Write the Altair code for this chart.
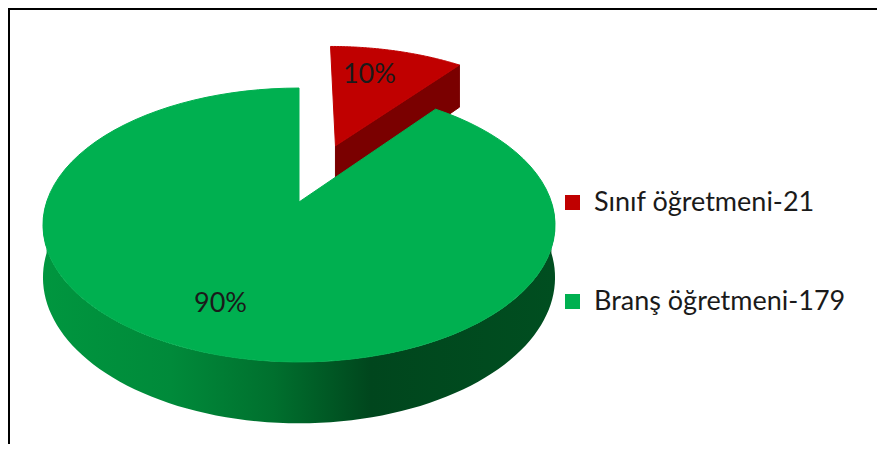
import altair as alt
import pandas as pd

# ---- data ----
categories = ["Sınıf öğretmeni-21", "Branş öğretmeni-179"]
values = [21, 179]
pct_labels = ["10%", "90%"]
slice_colors = ["#C00000", "#00B050"]
explode = [0.48, 0.0]

df = pd.DataFrame({
    "cat": categories,
    "value": values,
    "pct": pct_labels,
    "explode": explode,
    "order": list(range(len(categories))),
})

# ---- 3D pie projection parameters (perspective view of a tilted disc) ----
CX, CY = 299.0, 202.0      # projected centre of the disc
A, B = 252.4, 133.1        # horizontal / vertical scale
C = 0.168                  # perspective strength
H = 51.0                   # thickness of the disc
N = 90                     # arc segments
LR = 0.72                  # label radius

PX = f"{CX} + {A}*datum.u/(1 - {C}*datum.v)"
PY = f"{CY} + ({B}*datum.v + datum.dz)/(1 - {C}*datum.v)"

xenc = alt.X("px:Q", scale=alt.Scale(domain=[8, 877]), axis=None)
yenc = alt.Y("py:Q", scale=alt.Scale(domain=[8, 444], reverse=True), axis=None)
color_scale = alt.Scale(domain=categories, range=slice_colors)
legend = alt.Legend(
    orient="none", legendX=551, legendY=181, title=None,
    symbolType="square", symbolSize=225, symbolStrokeWidth=0,
    labelFont="Lato", labelFontSize=27, labelColor="#1a1a1a", labelLimit=600,
    labelOffset=8, rowPadding=71, padding=0,
)

base = (
    alt.Chart(df)
    .transform_joinaggregate(total="sum(value)")
    .transform_window(cum="sum(value)", sort=[alt.SortField("order")], frame=[None, 0])
    .transform_calculate(
        a0="2*PI*(datum.cum - datum.value)/datum.total",
        a1="2*PI*datum.cum/datum.total",
    )
    .transform_calculate(mid="(datum.a0 + datum.a1)/2")
    .transform_calculate(
        eu="datum.explode*sin(datum.mid)",
        ev="-datum.explode*cos(datum.mid)",
    )
)

# cut face of the exploded slice (visible radial side)
face = (
    base.transform_filter("datum.explode > 0")
    .transform_calculate(s="sequence(0, 4)")
    .transform_flatten(["s"])
    .transform_calculate(
        r="(datum.s == 1 || datum.s == 2) ? 1 : 0",
        dz=f"datum.s >= 2 ? {H} : 0",
    )
    .transform_calculate(
        u="datum.r*sin(datum.a1) + datum.eu",
        v="-datum.r*cos(datum.a1) + datum.ev",
    )
    .transform_calculate(px=PX, py=PY)
    .mark_line(interpolate="linear-closed", fill="#7A0000", stroke="#7A0000", strokeWidth=1)
    .encode(x=xenc, y=yenc, order="s:Q")
)

def top_face(filter_expr):
    return (
        base.transform_filter(filter_expr)
        .transform_calculate(s=f"sequence(0, {N + 2})")
        .transform_flatten(["s"])
        .transform_calculate(
            ang=f"datum.a0 + (datum.a1 - datum.a0)*min(datum.s, {N})/{N}",
            r=f"datum.s > {N} ? 0 : 1",
            dz="0",
        )
        .transform_calculate(
            u="datum.r*sin(datum.ang) + datum.eu",
            v="-datum.r*cos(datum.ang) + datum.ev",
        )
        .transform_calculate(px=PX, py=PY)
        .mark_line(interpolate="linear-closed", strokeWidth=1, strokeJoin="round")
        .encode(
            x=xenc, y=yenc, order="s:Q",
            fill=alt.Fill("cat:N", scale=color_scale, legend=legend),
            stroke=alt.Stroke("cat:N", scale=color_scale, legend=None),
        )
    )

wall_gradient = alt.LinearGradient(
    gradient="linear",
    stops=[
        alt.GradientStop(offset=0.0, color="#00963F"),
        alt.GradientStop(offset=0.25, color="#008A3A"),
        alt.GradientStop(offset=0.45, color="#00702E"),
        alt.GradientStop(offset=0.64, color="#00461D"),
        alt.GradientStop(offset=1.0, color="#004E20"),
    ],
    x1=0, x2=1, y1=0, y2=0,
)

# outer visible wall (front half) of the non-exploded slice
wall = (
    base.transform_filter("datum.explode == 0")
    .transform_calculate(ws="max(datum.a0, PI/2)", we="min(datum.a1, 3*PI/2)")
    .transform_filter("datum.we > datum.ws")
    .transform_calculate(s=f"sequence(0, {2 * N + 2})")
    .transform_flatten(["s"])
    .transform_calculate(
        ang=f"datum.s <= {N} ? datum.ws + (datum.we - datum.ws)*datum.s/{N} : datum.we - (datum.we - datum.ws)*(datum.s - {N + 1})/{N}",
        dz=f"datum.s <= {N} ? 0 : {H}",
    )
    .transform_calculate(u="sin(datum.ang) + datum.eu", v="-cos(datum.ang) + datum.ev")
    .transform_calculate(px=PX, py=PY)
    .mark_line(interpolate="linear-closed", fill=wall_gradient, strokeWidth=0)
    .encode(x=xenc, y=yenc, order="s:Q")
)

labels = (
    base.transform_calculate(
        u=f"{LR}*sin(datum.mid) + datum.eu",
        v=f"-{LR}*cos(datum.mid) + datum.ev",
        dz="0",
    )
    .transform_calculate(px=PX, py=PY)
    .mark_text(font="Lato", fontSize=27, color="#1a1a1a", baseline="middle", align="center", dx=-12)
    .encode(x=xenc, y=yenc, text="pct:N")
)

frame_df = pd.DataFrame({"k": [0]})
border_top = alt.Chart(frame_df).mark_rule(color="#000000", strokeWidth=2).encode(
    x=alt.value(0), x2=alt.value(869), y=alt.value(1)
)
border_left = alt.Chart(frame_df).mark_rule(color="#000000", strokeWidth=2).encode(
    x=alt.value(1), y=alt.value(0), y2=alt.value(436)
)

chart = (
    alt.layer(face, top_face("datum.explode > 0"), wall, top_face("datum.explode == 0"),
              labels, border_top, border_left)
    .properties(width=869, height=436, autosize=alt.AutoSizeParams(type="none"), padding=0)
    .configure_view(stroke=None)
)

chart.save("out.html", embed_options={"renderer": "svg", "actions": False})
